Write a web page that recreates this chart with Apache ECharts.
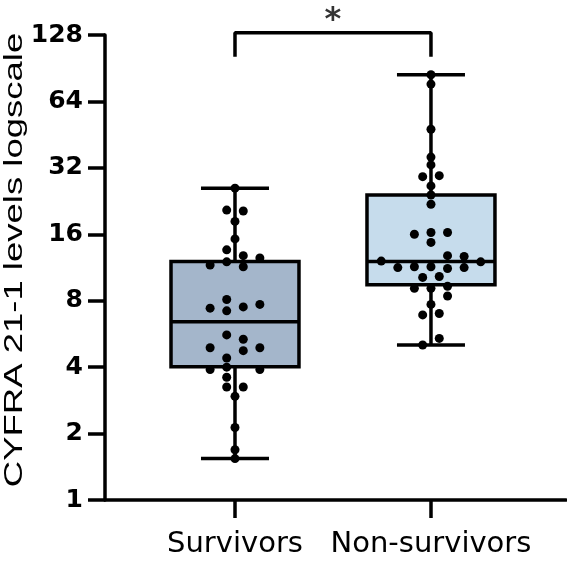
<!DOCTYPE html>
<html>
<head>
<meta charset="utf-8">
<script src="https://cdn.jsdelivr.net/npm/echarts@6/dist/echarts.min.js"></script>
<style>
  html, body { margin: 0; padding: 0; background: #fff; }
  #main { width: 567px; height: 561px; }
</style>
</head>
<body>
<div id="main"></div>
<script>
// groups on the x axis
var categories = ['Survivors', 'Non-survivors'];
var yTicks = [1, 2, 4, 8, 16, 32, 64, 128];
var yTitle = 'CYFRA 21-1 levels logscale';

// box stats: min, Q1, median, Q3, max
var survivorsBox = [1.54, 4.02, 6.43, 12.03, 25.9];
var nonSurvivorsBox = [5.04, 9.44, 12.03, 24.1, 84.5];

// single values
var survivorsValues = [25.9, 20.6, 20.4, 18.3, 15.25, 13.6, 12.8, 12.5, 12.0, 11.6, 11.4,
  8.1, 7.4, 7.2, 7.5, 7.7, 5.6, 5.35, 4.9, 4.75, 4.9, 4.4, 3.9, 4.0, 3.9, 3.6,
  3.25, 3.25, 2.95, 2.13, 1.69, 1.54];
// beeswarm slot of each dot (left / right of centre)
var survivorsSlots = [0, -1, 1, 0, 0, -1, 1, 3, -1, -3, 1, -1, -3, -1, 1, 3, -1, 1, -3, 1, 3, -1,
  -3, -1, 3, -1, -1, 1, 0, 0, 0, 0];

var nonSurvivorsValues = [84.5, 76.7, 47.9, 35.8, 33.0, 29.2, 29.5, 26.5, 24.1, 21.9, 16.0,
  16.3, 16.3, 14.7, 12.8, 12.7, 12.1, 12.0, 11.3, 11.4, 11.4, 11.2, 11.3, 10.2, 10.3,
  9.1, 9.1, 9.3, 8.4, 7.7, 6.9, 7.0, 5.4, 5.04];
var nonSurvivorsSlots = [0, 0, 0, 0, 0, -1, 1, 0, 0, 0, -2, 0, 2, 0, 2, 4, -6, 6, -4, -2, 0, 2, 4,
  -1, 1, -2, 0, 2, 2, 0, -1, 1, 1, -1];

var boxColors = ['#a4b6cb', '#c6dcec'];

var SLOT = 0.0423;     // one beeswarm step in x units
var BOX_W = 0.653;     // box width in x units
var CAP_W = 0.347;     // whisker cap width in x units
var LW = 3.5;

function swarm(values, slots, x) {
  return values.map(function (v, i) { return [x + slots[i] * SLOT, v]; });
}

var chart = echarts.init(document.getElementById('main'), null, { renderer: 'canvas' });

var option = {
  backgroundColor: '#fff',
  animation: false,
  grid: { left: 105, right: 1, top: 35, bottom: 61, outerBoundsMode: 'none' },
  // y title is drawn stretched along its length like in the original figure
  graphic: [{
    type: 'text',
    x: 15,
    y: 260,
    rotation: Math.PI / 2,
    scaleX: 1.46,
    style: {
      text: yTitle,
      font: '25px "Liberation Sans", Arial, sans-serif',
      fill: '#000',
      align: 'center',
      verticalAlign: 'middle'
    }
  }],
  xAxis: {
    type: 'value',
    min: 0.3367,
    max: 2.689,
    splitLine: { show: false },
    axisLine: { lineStyle: { color: '#000', width: LW } },
    axisTick: { customValues: [1, 2], length: 18, lineStyle: { color: '#000', width: LW } },
    axisLabel: {
      customValues: [1, 2],
      formatter: function (v) { return categories[Math.round(v) - 1]; },
      color: '#000',
      fontFamily: 'DejaVu Sans',
      fontSize: 29,
      margin: 30
    }
  },
  yAxis: {
    type: 'log',
    logBase: 2,
    min: 1,
    max: 128,
    interval: 1,
    splitLine: { show: false },
    axisLine: { lineStyle: { color: '#000', width: LW } },
    axisTick: { length: 17, lineStyle: { color: '#000', width: LW } },
    axisLabel: {
      color: '#000',
      fontFamily: 'DejaVu Sans',
      fontWeight: 'bold',
      fontSize: 25,
      margin: 22,
      formatter: function (v) { return yTicks.indexOf(Math.round(v)) >= 0 ? String(Math.round(v)) : ''; }
    }
  },
  series: [
    {
      type: 'custom',
      name: 'boxes',
      data: [[1].concat(survivorsBox), [2].concat(nonSurvivorsBox)],
      encode: { x: 0, y: [1, 2, 3, 4, 5] },
      renderItem: function (params, api) {
        var x = api.value(0);
        var lo = api.coord([x, api.value(1)]);
        var q1 = api.coord([x, api.value(2)]);
        var med = api.coord([x, api.value(3)]);
        var q3 = api.coord([x, api.value(4)]);
        var hi = api.coord([x, api.value(5)]);
        var boxHalf = api.size([BOX_W, 0], [x, 2])[0] / 2;
        var capHalf = api.size([CAP_W, 0], [x, 2])[0] / 2;
        var st = { stroke: '#000', lineWidth: LW };
        return {
          type: 'group',
          children: [
            { type: 'line', shape: { x1: lo[0], y1: lo[1], x2: hi[0], y2: hi[1] }, style: st },
            { type: 'line', shape: { x1: lo[0] - capHalf, y1: lo[1], x2: lo[0] + capHalf, y2: lo[1] }, style: st },
            { type: 'line', shape: { x1: hi[0] - capHalf, y1: hi[1], x2: hi[0] + capHalf, y2: hi[1] }, style: st },
            {
              type: 'rect',
              shape: { x: q3[0] - boxHalf, y: q3[1], width: boxHalf * 2, height: q1[1] - q3[1] },
              style: { fill: boxColors[params.dataIndex], stroke: '#000', lineWidth: LW }
            },
            { type: 'line', shape: { x1: med[0] - boxHalf, y1: med[1], x2: med[0] + boxHalf, y2: med[1] }, style: st }
          ]
        };
      }
    },
    {
      type: 'scatter',
      name: categories[0],
      data: swarm(survivorsValues, survivorsSlots, 1),
      symbolSize: 9,
      itemStyle: { color: '#000', opacity: 1 }
    },
    {
      type: 'scatter',
      name: categories[1],
      data: swarm(nonSurvivorsValues, nonSurvivorsSlots, 2),
      symbolSize: 9,
      itemStyle: { color: '#000', opacity: 1 }
    },
    {
      // significance bracket
      type: 'line',
      clip: false,
      data: [[1, 102], [1, 131], [2, 131], [2, 102]],
      symbol: 'none',
      lineStyle: { color: '#000', width: LW }
    },
    {
      type: 'scatter',
      clip: false,
      data: [[1.5, 148]],
      symbolSize: 0,
      label: {
        show: true,
        position: 'inside',
        formatter: '*',
        color: '#000',
        fontFamily: 'DejaVu Sans',
        fontWeight: 'bold',
        fontSize: 32
      }
    }
  ]
};

chart.setOption(option);
</script>
</body>
</html>
